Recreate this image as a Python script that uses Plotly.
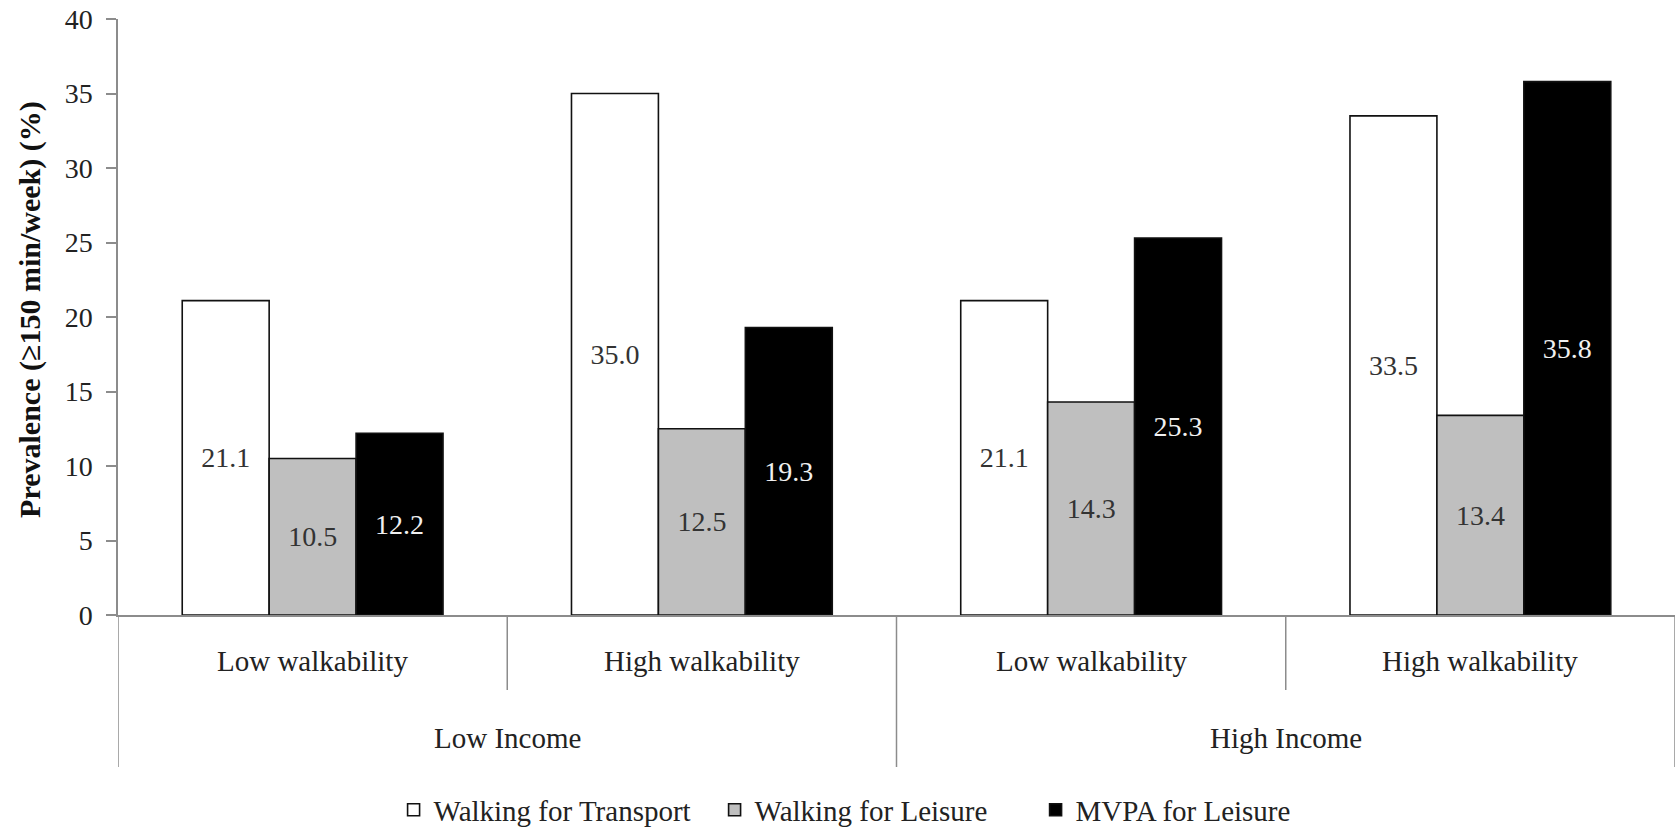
import plotly.graph_objects as go

categories = ["LI_LW", "LI_HW", "HI_LW", "HI_HW"]
walk_labels = ["Low walkability", "High walkability", "Low walkability", "High walkability"]
income_labels = ["Low Income", "High Income"]
series_names = ["Walking for Transport", "Walking for Leisure", "MVPA for Leisure"]
transport = [21.1, 35.0, 21.1, 33.5]
leisure_walk = [10.5, 12.5, 14.3, 13.4]
mvpa = [12.2, 19.3, 25.3, 35.8]

series_values = [transport, leisure_walk, mvpa]
fills = ["#ffffff", "#bfbfbf", "#000000"]
text_colors = ["#333333", "#333333", "#f0f0f0"]

SERIF = "Liberation Serif"
AX = "#8c8c8c"

fig = go.Figure()
for name, vals, fc, tc in zip(series_names, series_values, fills, text_colors):
    fig.add_trace(go.Bar(
        x=categories, y=vals, name=name,
        marker=dict(color=fc, line=dict(color="#111111", width=1.6)),
        texttemplate="%{y:.1f}", textposition="inside", insidetextanchor="middle",
        textangle=0, constraintext="none",
        textfont=dict(family=SERIF, size=28, color=tc),
    ))

fig.update_layout(
    width=1678, height=828,
    margin=dict(l=118, r=3, t=19, b=213, autoexpand=False),
    paper_bgcolor="white", plot_bgcolor="white",
    barmode="group", bargap=0.33, bargroupgap=0,
    font=dict(family=SERIF, size=28, color="#222222"),
    showlegend=True,
    legend=dict(orientation="h", x=0.177, xanchor="left", y=-0.327, yanchor="middle",
                font=dict(family=SERIF, size=29, color="#222222"),
                traceorder="normal", itemwidth=30, entrywidth=276, entrywidthmode="pixels"),
)
fig.update_xaxes(
    type="category", range=[-0.5, 3.5],
    tickvals=categories, ticktext=[""] * 4, ticks="",
    showline=True, linecolor=AX, linewidth=1.5,
    showgrid=False, zeroline=False,
)
fig.update_yaxes(
    range=[0, 40], dtick=5, tick0=0,
    ticks="outside", ticklen=10, tickcolor=AX, tickwidth=1.5,
    showline=True, linecolor=AX, linewidth=1.5,
    showgrid=False, zeroline=False,
    tickfont=dict(family=SERIF, size=28, color="#222222"),
    ticklabelstandoff=8,
)

# y-axis title
fig.add_annotation(x=-0.0565, y=0.512, xref="paper", yref="paper",
                   text="<b>Prevalence (≥150 min/week) (%)</b>", textangle=-90,
                   showarrow=False, xanchor="center", yanchor="middle",
                   font=dict(family=SERIF, size=30, color="#111111"))

# category labels
for i, lab in enumerate(walk_labels):
    fig.add_annotation(x=i, y=-0.0772, xref="x", yref="paper", text=lab,
                       showarrow=False, font=dict(family=SERIF, size=29, color="#222222"),
                       yanchor="middle")
for j, lab in enumerate(income_labels):
    fig.add_annotation(x=2 * j + 0.5, y=-0.206, xref="x", yref="paper", text=lab,
                       showarrow=False, font=dict(family=SERIF, size=29, color="#222222"),
                       yanchor="middle")

# dividers
for xpos, ybot in [(-0.5, -0.255), (0.5, -0.126), (1.5, -0.255), (2.5, -0.126), (3.5, -0.255)]:
    fig.add_shape(type="line", xref="x", yref="paper", x0=xpos, x1=xpos, y0=0, y1=ybot,
                  line=dict(color=AX, width=1.5))

fig.write_html("out.html", config={"displayModeBar": False},
               post_script="document.body.style.margin='0px';")
